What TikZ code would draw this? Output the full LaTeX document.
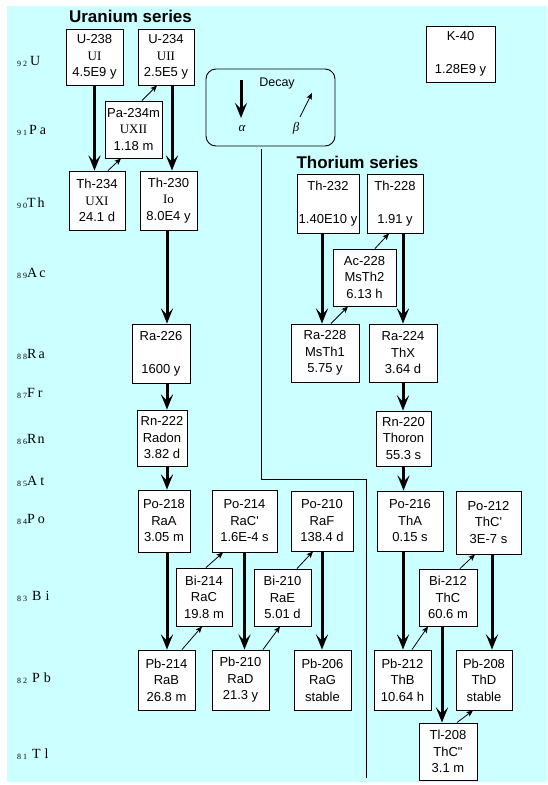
\documentclass[tikz,border=0pt]{standalone}
\usepackage{fontspec}
\setmainfont{Liberation Sans}
\newfontfamily\serf{Liberation Serif}
\usetikzlibrary{arrows.meta,calc}
\definecolor{bgcyan}{RGB}{204,255,255}
\newcommand\bx{\fontsize{13}{16.5}\selectfont}
\begin{document}
\begin{tikzpicture}[x=1pt,y=-1pt,
  nbox/.style={draw=black, line width=0.9pt, fill=white, inner sep=0pt, align=center, font=\bx},
  alphaarrow/.style={line width=3pt, -{Stealth[length=15pt,width=12pt,inset=6pt]}},
  betaarrow/.style={line width=0.8pt, -{Stealth[length=6.5pt,width=5.5pt,inset=1.5pt]}},
  el/.style={anchor=base west, inner sep=0pt, font=\serf\fontsize{14}{14}\selectfont},
  zn/.style={anchor=base west, inner sep=0pt, font=\serf\fontsize{8}{8}\selectfont},
  ttl/.style={font=\bfseries\fontsize{17}{17}\selectfont, inner sep=0pt},
  greek/.style={font=\serf\itshape\fontsize{13}{13}\selectfont, inner sep=0pt},
  sep/.style={line width=0.8pt}]
\useasboundingbox (0,0) rectangle (547,785);
\fill[bgcyan] (7,6) rectangle (547,782);

% element labels
\node[zn] (z92) at (17,66) {9\hspace{2pt}2};  \node[el] (e92) at (30,65) {U};
\node[zn] (z91) at (17,135) {9\hspace{2pt}1}; \node[el] (e91) at (29,134) {P\hspace{3pt}a};
\node[zn] (z90) at (17,208) {9\hspace{2pt}0}; \node[el] (e90) at (27,207) {T\hspace{2pt}h};
\node[zn] (z89) at (17,278) {8\hspace{2pt}9}; \node[el] (e89) at (27,277) {A\hspace{2pt}c};
\node[zn] (z88) at (17,359) {8\hspace{2pt}8}; \node[el] (e88) at (27,358) {R\hspace{2pt}a};
\node[zn] (z87) at (17,398) {8\hspace{2pt}7}; \node[el] (e87) at (27,397) {F\hspace{3pt}r};
\node[zn] (z86) at (17,444) {8\hspace{2pt}6}; \node[el] (e86) at (27,443) {R\hspace{1pt}n};
\node[zn] (z85) at (17,486) {8\hspace{2pt}5}; \node[el] (e85) at (27,485) {A\hspace{3pt}t};
\node[zn] (z84) at (17,524) {8\hspace{2pt}4}; \node[el] (e84) at (27,523) {P\hspace{3pt}o};
\node[zn] (z83) at (17,601) {8\hspace{2pt}3}; \node[el] (e83) at (32,600) {B\hspace{4pt}i};
\node[zn] (z82) at (17,683) {8\hspace{2pt}2}; \node[el] (e82) at (32,682) {P\hspace{4pt}b};
\node[zn] (z81) at (17,759) {8\hspace{2pt}1}; \node[el] (e81) at (32,758) {T\hspace{4pt}l};

% titles
\node[ttl] (uran) at (130.5,16.5) {Uranium series};
\node[ttl] (thor) at (357.5,162.5) {Thorium series};

% decay legend
\node[draw=black, line width=0.9pt, rounded corners=10pt, minimum width=129pt, minimum height=77pt, inner sep=0pt] (decay) at (270.5,107.5) {};
\node[font=\fontsize{12.5}{12.5}\selectfont, inner sep=0pt] (decaytxt) at (277,83.5) {Decay};
\coordinate (la1) at (241,80);
\coordinate (la2) at (241,118);
\draw[alphaarrow] (la1) -- (la2);
\node[greek] (lalpha) at (242,128) {α};
\coordinate (lb1) at (300,117);
\coordinate (lb2) at (312,93);
\draw[betaarrow] (lb1) -- (lb2);
\node[greek] (lbeta) at (296,128) {β};

% separator line
\coordinate (s1) at (261,149);
\coordinate (s2) at (366,479);
\coordinate (s3) at (366,778);
\draw[sep] (s1) |- (s2) -- (s3);

% K-40
\node[nbox, minimum width=69pt, minimum height=56pt] (K40) at (460.5,54) {K-40\\~\\1.28E9 y};

% Uranium series boxes
\node[nbox, minimum width=57pt, minimum height=56pt] (U238) at (94.5,57) {U-238\\{\serf UI}\\4.5E9 y};
\node[nbox, minimum width=56pt, minimum height=56pt] (U234) at (166,57) {U-234\\{\serf UII}\\2.5E5 y};
\node[nbox, minimum width=57pt, minimum height=57pt] (Pa234) at (133.5,129.5) {Pa-234m\\{\serf UXII}\\1.18 m};
\node[nbox, minimum width=56pt, minimum height=59pt] (Th234) at (97,200.5) {Th-234\\{\serf UXI}\\24.1 d};
\node[nbox, minimum width=57pt, minimum height=59pt] (Th230) at (168.5,200.5) {Th-230\\{\serf Io}\\8.0E4 y};
\node[nbox, minimum width=58pt, minimum height=59pt] (Ra226) at (161,353.5) {Ra-226\\~\\1600 y};
\node[nbox, minimum width=50pt, minimum height=56pt] (Rn222) at (162,438) {Rn-222\\Radon\\3.82 d};
\node[nbox, minimum width=52pt, minimum height=62pt] (Po218) at (164,521) {Po-218\\RaA\\3.05 m};
\node[nbox, minimum width=65pt, minimum height=62pt] (Po214) at (244.5,521) {Po-214\\RaC\textquotesingle\\1.6E-4 s};
\node[nbox, minimum width=62pt, minimum height=60pt] (Po210) at (322,521) {Po-210\\RaF\\138.4 d};
\node[nbox, minimum width=56pt, minimum height=58pt] (Bi214) at (204,597) {Bi-214\\RaC\\19.8 m};
\node[nbox, minimum width=57pt, minimum height=57pt] (Bi210) at (282.5,597.5) {Bi-210\\RaE\\5.01 d};
\node[nbox, minimum width=57pt, minimum height=60pt] (Pb214) at (166.5,680) {Pb-214\\RaB\\26.8 m};
\node[nbox, minimum width=57pt, minimum height=60pt] (Pb210) at (240.5,680) {Pb-210\\RaD\\21.3 y};
\node[nbox, minimum width=57pt, minimum height=60pt] (Pb206) at (322.5,680) {Pb-206\\RaG\\stable};

% Thorium series boxes
\node[nbox, minimum width=62pt, minimum height=59pt] (Th232) at (328,203.5) {Th-232\\~\\1.40E10 y};
\node[nbox, minimum width=56pt, minimum height=59pt] (Th228) at (395,203.5) {Th-228\\~\\1.91 y};
\node[nbox, minimum width=63pt, minimum height=57pt] (Ac228) at (364.5,277.5) {Ac-228\\MsTh2\\6.13 h};
\node[nbox, minimum width=68pt, minimum height=58pt] (Ra228) at (325,353) {Ra-228\\MsTh1\\5.75 y};
\node[nbox, minimum width=68pt, minimum height=58pt] (Ra224) at (403,353) {Ra-224\\ThX\\3.64 d};
\node[nbox, minimum width=55pt, minimum height=55pt] (Rn220) at (403.5,438.5) {Rn-220\\Thoron\\55.3 s};
\node[nbox, minimum width=66pt, minimum height=60pt] (Po216) at (410,521) {Po-216\\ThA\\0.15 s};
\node[nbox, minimum width=65pt, minimum height=63pt] (Po212) at (488.5,522.5) {Po-212\\ThC\textquotesingle\\3E-7 s};
\node[nbox, minimum width=58pt, minimum height=57pt] (Bi212) at (448,597.5) {Bi-212\\ThC\\60.6 m};
\node[nbox, minimum width=57pt, minimum height=60pt] (Pb212) at (402.5,680) {Pb-212\\ThB\\10.64 h};
\node[nbox, minimum width=56pt, minimum height=60pt] (Pb208) at (484,680) {Pb-208\\ThD\\stable};
\node[nbox, minimum width=58pt, minimum height=57pt] (Tl208) at (448,751.5) {Tl-208\\ThC\textquotedbl\\3.1 m};

% alpha decays
\draw[alphaarrow] (U238.south) -- (U238.south |- Th234.north);
\draw[alphaarrow] ([xshift=6pt]U234.south) -- ([xshift=6pt]U234.south |- Th230.north);
\draw[alphaarrow] ([xshift=-1.5pt]Th230.south) -- ([xshift=-1.5pt]Th230.south |- Ra226.north);
\draw[alphaarrow] ([xshift=6pt]Ra226.south) -- ([xshift=6pt]Ra226.south |- Rn222.north);
\draw[alphaarrow] ([xshift=5pt]Rn222.south) -- ([xshift=5pt]Rn222.south |- Po218.north);
\draw[alphaarrow] ([xshift=3pt]Po218.south) -- ([xshift=3pt]Po218.south |- Pb214.north);
\draw[alphaarrow] (Po214.south) -- (Po214.south |- Pb210.north);
\draw[alphaarrow] (Po210.south) -- (Po210.south |- Pb206.north);
\draw[alphaarrow] ([xshift=-6pt]Th232.south) -- ([xshift=-6pt]Th232.south |- Ra228.north);
\draw[alphaarrow] ([xshift=8pt]Th228.south) -- ([xshift=8pt]Th228.south |- Ra224.north);
\draw[alphaarrow] (Ra224.south) -- (Ra224.south |- Rn220.north);
\draw[alphaarrow] (Rn220.south) -- (Rn220.south |- Po216.north);
\draw[alphaarrow] ([xshift=-7pt]Po216.south) -- ([xshift=-7pt]Po216.south |- Pb212.north);
\draw[alphaarrow] ([xshift=3.5pt]Po212.south) -- ([xshift=3.5pt]Po212.south |- Pb208.north);
\draw[alphaarrow] ([xshift=-6pt]Bi212.south) -- ([xshift=-6pt]Bi212.south |- Tl208.north);

% beta decays
\draw[betaarrow] ([xshift=11pt]Th234.north) -- ([xshift=-12.5pt]Pa234.south);
\draw[betaarrow] ([xshift=8.5pt]Pa234.north) -- ([xshift=-9pt]U234.south);
\draw[betaarrow] ([xshift=6pt]Ra228.north) -- ([xshift=-16.5pt]Ac228.south);
\draw[betaarrow] ([xshift=10.5pt]Ac228.north) -- ([xshift=-6pt]Th228.south);
\draw[betaarrow] ([xshift=15.5pt]Pb214.north) -- ([xshift=-2pt]Bi214.south);
\draw[betaarrow] ([xshift=2pt]Bi214.north) -- ([xshift=-21.5pt]Po214.south);
\draw[betaarrow] ([xshift=22.5pt]Pb210.north) -- ([xshift=-2.5pt]Bi210.south);
\draw[betaarrow] ([xshift=14.5pt]Bi210.north) -- ([xshift=-9pt]Po210.south);
\draw[betaarrow] ([xshift=9.5pt]Pb212.north) -- ([xshift=-20pt]Bi212.south);
\draw[betaarrow] ([xshift=12pt]Bi212.north) -- ([xshift=-13.5pt]Po212.south);
\draw[betaarrow] ([xshift=9pt]Tl208.north) -- ([xshift=-11pt]Pb208.south);
\end{tikzpicture}
\end{document}
